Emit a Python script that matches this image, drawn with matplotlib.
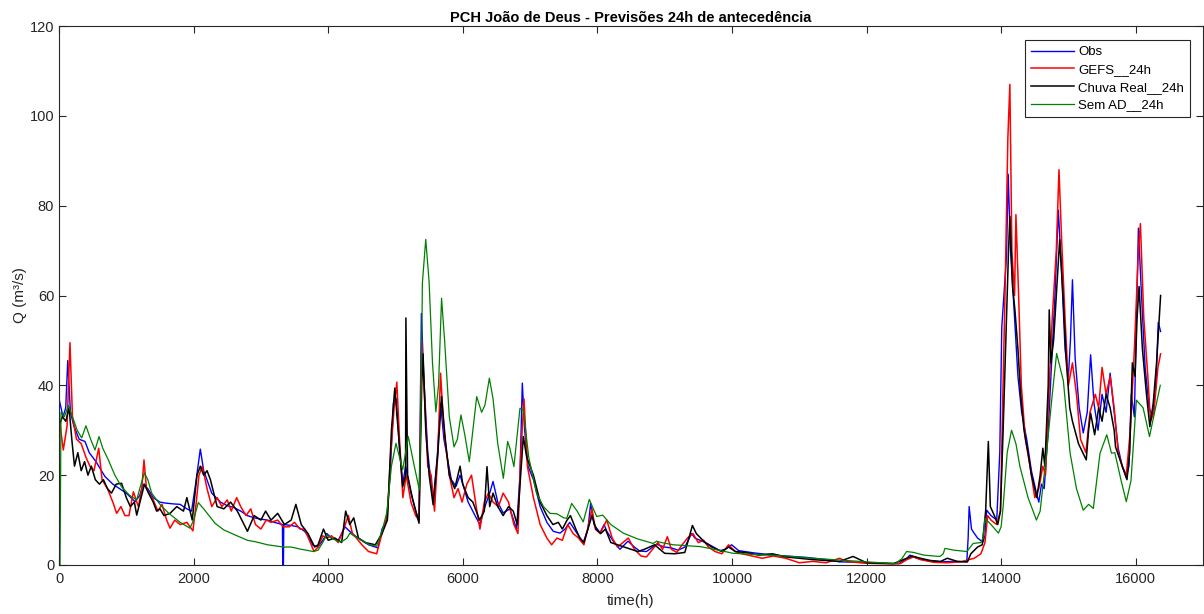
import numpy as np
import matplotlib
matplotlib.use('Agg')
import matplotlib.pyplot as plt

plt.rcParams['font.family'] = ['Liberation Sans', 'DejaVu Sans']

# (time h, Q m3/s)
obs = [(0,37),(60,33),(100,35),(130,45.5),(170,34),(220,31),(300,28),(386,27.5),(450,25),(550,23),(683,19.7),
       (800,18),(900,17),(1000,16),(1130,14.1),(1200,15.5),(1250,18),(1320,17),(1400,15),(1500,14),(1575,13.8),
       (1700,13.6),(1800,13.5),(1900,12.5),(1970,12),(2030,18),(2100,25.8),(2150,21),(2270,16),(2400,14),
       (2500,13.2),(2600,12.8),(2700,12),(2800,11),(2900,10.5),(3000,10.2),(3100,10),(3200,9.5),(3320,9),
       (3325,0),(3335,0),(3340,9),(3450,8.8),(3550,8.5),(3650,7.5),(3720,6),(3775,4.4),(3850,4),(3920,5.5),
       (3980,7),(4050,6),(4150,5.5),(4250,8.5),(4320,7.5),(4400,6.5),(4500,5.5),(4600,4.5),(4740,3.8),(4800,8),
       (4870,10),(4920,20),(4970,36),(5010,37),(5060,26),(5107,18),(5150,22),(5230,16),(5300,12),(5350,10),
       (5385,56),(5420,42),(5480,25),(5560,14),(5620,24),(5670,36),(5720,28),(5830,19),(5900,17.5),(5960,20),
       (6080,14),(6200,10.5),(6255,9),(6330,13),(6400,16),(6450,18.6),(6520,14),(6600,11.6),(6700,12.5),
       (6800,8),(6850,20),(6885,40.5),(6920,30),(6970,22),(7050,19),(7150,13),(7250,9.5),(7345,7.5),(7445,7.1),
       (7520,8),(7590,9.5),(7700,7),(7790,5),(7860,8),(7900,13.7),(7950,9),(8040,7.2),(8100,9),(8140,7.5),
       (8250,5),(8335,3.5),(8455,5.3),(8550,4),(8630,3.1),(8730,3),(8880,4.6),(9000,4),(9100,3.8),(9200,3.3),
       (9300,4),(9400,7),(9450,6),(9620,4.9),(9820,3.2),(9900,3.5),(9995,4.5),(10100,3.2),(10325,2.7),
       (10614,2.2),(10800,2),(11100,1.7),(11400,1.2),(11600,0.7),(11900,0.6),(12200,0.4),(12480,0.3),
       (12600,1.5),(12645,2.2),(12750,1.5),(12900,1),(13090,0.7),(13300,0.8),(13490,0.7),(13510,6),(13525,13),
       (13560,8),(13585,7.4),(13650,6),(13730,5.1),(13760,6.5),(13785,12.2),(13850,11),(13935,10),(13980,25),
       (14010,53),(14080,68.7),(14105,87),(14140,70),(14200,55),(14250,42),(14305,34),(14380,28),(14450,21),
       (14525,16),(14560,14),(14600,18),(14640,17),(14700,30),(14750,45),(14800,60),(14850,79),(14900,65),
       (14950,48),(15000,42),(15030,50),(15060,63.5),(15100,46),(15160,35),(15220,29.4),(15280,34),(15330,46.8),
       (15380,36),(15440,30),(15500,38),(15560,34),(15620,42.7),(15680,34),(15740,26),(15800,22),(15860,19.5),
       (15900,22),(15935,38),(15980,33),(16040,75),(16080,62),(16140,44),(16200,35),(16250,33),(16300,40),
       (16335,54),(16370,52)]

gefs = [(0,33),(64,25.6),(120,31),(163,49.5),(200,33),(260,28),(330,27),(400,24),(460,22),(520,21),(590,26),
        (640,19),(720,17),(800,14),(857,11.5),(920,13),(980,11),(1040,11),(1105,16.3),(1180,13),(1230,17),
        (1263,23.4),(1300,17),(1400,14.5),(1470,12),(1530,13.5),(1600,10),(1650,8.2),(1720,10),(1800,9),
        (1900,9.5),(1990,7.6),(2040,14),(2080,20),(2130,22),(2200,17),(2270,13),(2350,15),(2420,13),(2500,14.5),
        (2560,12),(2640,15),(2700,13),(2780,11),(2850,12.5),(2920,9),(3000,8),(3080,10),(3150,9.5),(3250,10),
        (3330,8.5),(3420,8.5),(3500,9.5),(3580,8),(3650,8),(3720,5.5),(3790,3),(3850,4),(3920,6.5),(3980,6),
        (4050,6.5),(4150,5),(4230,8),(4300,11),(4360,7),(4420,6),(4500,4.5),(4600,3),(4720,2.5),(4800,7),
        (4880,11),(4930,25),(4980,35),(5020,40.7),(5060,28),(5110,15),(5160,20),(5230,14),(5300,11),(5350,10),
        (5390,50),(5430,38),(5480,22),(5530,20),(5580,12),(5630,25),(5670,42.7),(5720,30),(5800,20),(5870,15),
        (5930,17),(5990,14),(6060,18),(6130,20),(6200,13),(6255,8),(6320,14),(6380,16),(6450,14),(6530,13),
        (6600,16),(6680,14),(6760,9),(6820,7),(6860,24),(6910,37),(6960,22),(7050,15),(7150,9),(7250,6),
        (7320,4.5),(7400,6),(7480,5.5),(7560,9),(7640,7),(7720,6),(7800,4.5),(7870,9),(7920,12.5),(7970,8),
        (8040,7),(8140,10),(8220,6),(8300,4),(8380,5),(8460,6),(8550,3.5),(8650,2),(8730,1.8),(8820,3.5),
        (8900,5),(8970,3.5),(9040,6.3),(9100,3.5),(9180,2.8),(9260,4.5),(9340,6),(9420,7),(9500,5),(9580,5.5),
        (9650,4),(9750,3),(9850,2.5),(9950,4.5),(10050,3),(10150,2.5),(10300,2),(10450,1.5),(10614,2),
        (10800,1.5),(11000,0.5),(11200,0.8),(11400,0.5),(11600,1.5),(11700,0.8),(11900,0.5),(12000,0.4),
        (12200,0.3),(12500,0.3),(12600,1.2),(12700,1.8),(12800,1.2),(13000,0.6),(13200,0.5),(13400,0.7),
        (13600,1.5),(13700,2.5),(13760,5),(13800,11),(13850,10),(13935,9),(13990,12),(14030,40),(14060,62),
        (14100,95),(14130,107),(14160,70),(14200,60),(14220,78),(14260,60),(14300,40),(14360,28),(14430,22),
        (14500,15),(14560,17),(14620,22),(14660,20),(14700,35),(14760,55),(14820,70),(14860,88),(14900,72),
        (14950,55),(15000,40),(15060,45),(15120,38),(15180,28),(15260,25),(15320,34),(15400,38),(15450,35),
        (15500,44),(15560,38),(15620,42),(15680,35),(15740,25),(15800,22),(15860,20),(15920,30),(15980,48),
        (16040,70),(16070,76),(16120,55),(16180,42),(16220,32),(16270,34),(16330,44),(16370,47)]

chuva = [(0,31),(50,33),(100,32),(150,35),(190,28),(230,22),(280,25),(330,21),(380,23),(430,20),(480,22),
         (540,19),(600,18),(660,19),(720,17),(780,16),(850,18),(930,18.2),(1000,15),(1060,13),(1120,14),
         (1155,11.1),(1220,15),(1270,18),(1330,16),(1400,14),(1450,12),(1500,12.5),(1560,11),(1650,11.5),
         (1750,13),(1850,12),(1900,15),(1980,10),(2050,20),(2100,22),(2150,20),(2200,21),(2250,19),(2350,13),
         (2450,12.5),(2550,14),(2650,12),(2750,9),(2800,7.5),(2900,11),(3000,10),(3070,12),(3150,10),
         (3250,11.5),(3350,9),(3450,10),(3520,13.5),(3600,9),(3700,7),(3800,4),(3850,4.5),(3930,8),(4000,5.5),
         (4100,6),(4200,5),(4260,12),(4320,9),(4380,10.5),(4450,6),(4550,5),(4700,4.5),(4800,7),(4880,10),
         (4940,30),(4990,39.4),(5040,30),(5107,17.4),(5150,20),(5155,55),(5180,20),(5250,15),(5350,9.3),
         (5390,40),(5410,47),(5450,30),(5500,20),(5560,13.4),(5630,25),(5685,37.5),(5740,28),(5800,20),
         (5880,17),(5960,22),(6000,18),(6080,15),(6150,14),(6250,10),(6320,12),(6360,21.9),(6400,13),
         (6450,16),(6520,13),(6600,11),(6680,13),(6750,12),(6810,9),(6860,20),(6900,28.6),(6950,24),(7050,20),
         (7150,14),(7250,11),(7340,9),(7420,9.5),(7480,8),(7550,10),(7600,11),(7680,8),(7740,6),(7800,5),
         (7860,8),(7920,11),(7980,8),(8050,7),(8120,8),(8200,5),(8300,4.5),(8400,4),(8500,3.5),(8600,3),
         (8700,3.5),(8850,4.5),(9000,2.6),(9150,2.5),(9300,2.8),(9413,8.8),(9470,7),(9600,5),(9700,4),
         (9850,3),(9950,4),(10050,3),(10200,2.8),(10400,2.2),(10600,2.5),(10800,1.8),(11000,1.5),(11200,1.2),
         (11400,1),(11600,0.8),(11800,1.9),(12000,0.5),(12400,0.3),(12600,1.5),(12680,2),(12800,1.5),
         (12950,1),(13100,0.8),(13200,1.5),(13350,0.8),(13500,0.7),(13550,2.5),(13650,4),(13720,4.5),
         (13770,12),(13810,27.5),(13840,13),(13900,11),(13950,9),(13990,12),(14030,30),(14080,55),(14110,70),
         (14130,77.6),(14170,62),(14205,56.8),(14250,48),(14290,38),(14340,30),(14400,25),(14450,20),
         (14500,17),(14530,15),(14580,20),(14620,26),(14650,22),(14700,40),(14715,56.8),(14740,45),(14780,50),
         (14820,60),(14870,72.4),(14920,60),(14970,45),(15020,35),(15060,32),(15150,27),(15265,23.4),
         (15300,30),(15330,33.8),(15390,29),(15450,35),(15500,32),(15560,38),(15620,35),(15680,30),
         (15700,26.3),(15800,22),(15870,19),(15910,25),(15950,45),(15990,42),(16020,55),(16050,62),(16100,48),
         (16160,38),(16210,30.8),(16260,36),(16310,45),(16370,60)]

sem_ad = [(0,0),(15,0),(30,34),(80,33),(140,35.5),(200,33),(270,30),(337,28.3),(400,31),(470,28),(535,25.6),
          (595,28.6),(650,26),(733,23.4),(830,20),(930,17.4),(1050,15.5),(1155,14.5),(1200,17),(1268,20.5),
          (1320,19),(1377,16),(1500,13.5),(1625,11.6),(1800,9.5),(1946,8.2),(2000,10),(2070,13.9),(2150,12.5),
          (2318,9.3),(2450,7.8),(2615,6.7),(2800,5.5),(2912,5.2),(3100,4.5),(3333,4),(3450,4),(3600,3.5),
          (3780,3),(3850,3.3),(3920,5),(3977,6.7),(4050,6),(4130,5.4),(4200,5.2),(4275,5.9),(4324,7.1),
          (4380,6.5),(4500,5.5),(4620,4.5),(4720,4.2),(4800,7.5),(4870,11.6),(4940,22),(5007,27.1),(5060,24),
          (5107,21.2),(5190,28.6),(5280,22),(5355,16.7),(5380,35),(5400,62.8),(5450,72.5),(5500,63),(5550,45),
          (5600,34.1),(5640,40),(5685,59.4),(5730,50),(5800,33),(5870,26.3),(5920,28),(5973,33.4),(6030,29),
          (6097,23),(6150,30),(6207,37.5),(6280,34),(6330,35.6),(6395,41.6),(6450,37),(6520,27),(6603,19.3),
          (6667,27.5),(6700,26),(6760,21.9),(6810,29),(6850,34.9),(6900,34.6),(6980,24),(7097,16),(7200,13),
          (7296,11.5),(7400,11.4),(7500,10.5),(7545,10.4),(7618,13.7),(7700,12),(7790,9.6),(7880,14.6),
          (7990,10.8),(8080,11.1),(8200,9),(8385,7.1),(8600,5.8),(8830,4.8),(8880,5.3),(8950,5),(9130,4.5),
          (9525,4.1),(9800,3.3),(10020,2.6),(10400,2.3),(10800,2),(11200,1.5),(11600,1.1),(12000,0.7),
          (12430,0.3),(12530,1.5),(12595,3),(12700,2.8),(12850,2.2),(13090,1.9),(13140,2.5),(13165,3.7),
          (13300,3.3),(13490,3),(13585,4.8),(13700,5),(13730,6),(13760,10.4),(13850,9),(13960,7.1),(14000,8.5),
          (14030,13),(14090,25),(14155,30),(14220,27),(14280,21.9),(14400,15),(14525,10),(14580,12),(14675,25),
          (14760,38),(14825,47.1),(14925,41),(15025,24.9),(15120,17),(15220,12.2),(15300,13.5),(15370,12.6),
          (15470,24.9),(15570,29),(15640,24.9),(15690,25),(15780,19),(15860,14.1),(15930,18.8),(16010,36.7),
          (16110,35),(16205,28.6),(16280,34),(16365,40)]

series = [(obs, 'Obs', (0, 0, 1), 1.0),
          (gefs, 'GEFS__24h', (1, 0, 0), 1.1),
          (chuva, 'Chuva Real__24h', (0, 0, 0), 1.1),
          (sem_ad, 'Sem AD__24h', (0, 0.5, 0), 0.9)]

fig = plt.figure(figsize=(12.04, 6.14), dpi=100)
ax = fig.add_axes([59/1204, 49/614, 1144/1204, 539/614])

for data, name, col, lw in series:
    t, q = np.array(data).T
    ax.plot(t, q, color=col, lw=lw, label=name)

ax.set_xlim(0, 17000)
ax.set_ylim(0, 120)
ax.set_xticks(np.arange(0, 17000, 2000))
ax.set_yticks(np.arange(0, 121, 20))
ax.tick_params(direction='in', top=True, right=True, length=5, labelsize=10.5, colors='0.15')
ax.tick_params(axis='x', pad=5)
for s in ax.spines.values():
    s.set_color('0.15')
    s.set_linewidth(0.8)

ax.set_title('PCH João de Deus - Previsões 24h de antecedência', fontsize=10.5, fontweight='bold', pad=3)
ax.set_xlabel('time(h)', fontsize=11, color='0.15', labelpad=6)
ax.set_ylabel('Q (m³/s)', fontsize=11, color='0.15', labelpad=2)

leg = ax.legend(loc='upper right', bbox_to_anchor=(0.9886, 0.974), borderaxespad=0,
                fontsize=9.5, fancybox=False, edgecolor='0.15', framealpha=1,
                handlelength=3.2, handletextpad=0.35, labelspacing=0.42, borderpad=0.45)
leg.get_frame().set_linewidth(0.8)

fig.savefig('out.png', dpi=100)
